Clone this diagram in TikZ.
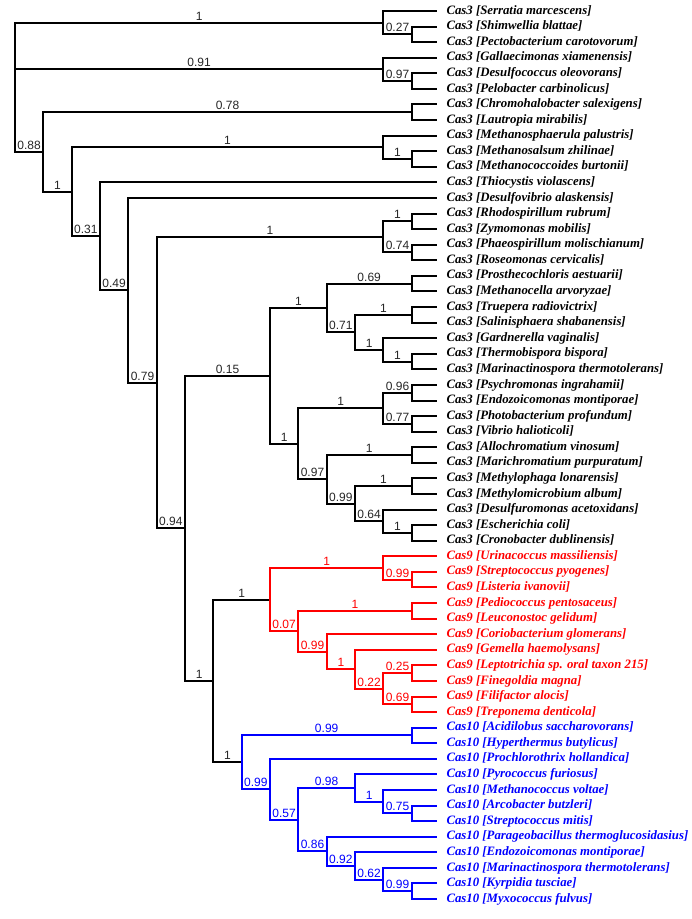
\documentclass[tikz,border=0pt]{standalone}
\usepackage{fontspec}
\newfontfamily\treeserif{Liberation Serif}
\newfontfamily\treesans{Liberation Sans}
\newcommand{\br}[3]{\draw (#1) |- (#2) node[val] {#3};}

\begin{document}
\begin{tikzpicture}[x=1pt, y=-1pt, line width=2pt,
  leaf/.style={anchor=west, inner xsep=9.5pt, inner ysep=0pt, outer sep=0pt,
    text height=8.8pt, text depth=2.6pt,
    font={\treeserif\bfseries\itshape\fontsize{12.8pt}{14pt}\selectfont}},
  val/.style={pos=0.75, above, inner sep=1.4pt, text=black!85,
    font={\treesans\fontsize{12pt}{14pt}\selectfont}}]
  \useasboundingbox (0,0) rectangle (692,919);
  \def\dy{15.58};
  % leaves
  \foreach \t [count=\i] in {Serratia marcescens, Shimwellia blattae, Pectobacterium carotovorum,
      Gallaecimonas xiamenensis, Desulfococcus oleovorans, Pelobacter carbinolicus,
      Chromohalobacter salexigens, Lautropia mirabilis, Methanosphaerula palustris,
      Methanosalsum zhilinae, Methanococcoides burtonii, Thiocystis violascens,
      Desulfovibrio alaskensis, Rhodospirillum rubrum, Zymomonas mobilis,
      Phaeospirillum molischianum, Roseomonas cervicalis, Prosthecochloris aestuarii,
      Methanocella arvoryzae, Truepera radiovictrix, Salinisphaera shabanensis,
      Gardnerella vaginalis, Thermobispora bispora, Marinactinospora thermotolerans,
      Psychromonas ingrahamii, Endozoicomonas montiporae, Photobacterium profundum,
      Vibrio halioticoli, Allochromatium vinosum, Marichromatium purpuratum,
      Methylophaga lonarensis, Methylomicrobium album, Desulfuromonas acetoxidans,
      Escherichia coli, Cronobacter dublinensis}
    \node[leaf] (l\i) at (437,{11+\dy*(\i-1)}) {Cas3 [\t]};
  \foreach \t [count=\i from 36] in {Urinacoccus massiliensis, Streptococcus pyogenes,
      Listeria ivanovii, Pediococcus pentosaceus, Leuconostoc gelidum,
      Coriobacterium glomerans, Gemella haemolysans, Leptotrichia sp. oral taxon 215,
      Finegoldia magna, Filifactor alocis, Treponema denticola}
    \node[leaf, text=red] (l\i) at (437,{11+\dy*(\i-1)}) {Cas9 [\t]};
  \foreach \t [count=\i from 47] in {Acidilobus saccharovorans, Hyperthermus butylicus,
      Prochlorothrix hollandica, Pyrococcus furiosus, Methanococcus voltae,
      Arcobacter butzleri, Streptococcus mitis, Parageobacillus thermoglucosidasius,
      Endozoicomonas montiporae, Marinactinospora thermotolerans, Kyrpidia tusciae,
      Myxococcus fulvus}
    \node[leaf, text=blue] (l\i) at (437,{11+\dy*(\i-1)}) {Cas10 [\t]};
  % inner nodes
  \coordinate (root) at (15,69.43);
  \coordinate (nS) at (383.33,22.69);
  \coordinate (n27) at (411.67,34.37);
  \coordinate (n91) at (383.33,69.43);
  \coordinate (n97a) at (411.67,81.11);
  \coordinate (n88) at (43.33,152.06);
  \coordinate (n78) at (411.67,112.27);
  \coordinate (n1) at (71.67,191.84);
  \coordinate (nMs) at (383.33,147.33);
  \coordinate (nMz) at (411.67,159.01);
  \coordinate (n31) at (100,236.36);
  \coordinate (n49) at (128.33,290.33);
  \coordinate (n79) at (156.67,382.69);
  \coordinate (nRh) at (383.33,236.91);
  \coordinate (nRZ) at (411.67,221.33);
  \coordinate (n74) at (411.67,252.49);
  \coordinate (n94) at (185,528.46);
  \coordinate (n15) at (270,375.92);
  \coordinate (nA) at (326.67,308.0);
  \coordinate (n69) at (411.67,283.65);
  \coordinate (n71) at (355,332.34);
  \coordinate (nT) at (411.67,314.81);
  \coordinate (nGa) at (383.33,349.87);
  \coordinate (nTM) at (411.67,361.55);
  \coordinate (nB) at (298.33,443.83);
  \coordinate (nPV) at (383.33,408.29);
  \coordinate (n96) at (411.67,392.71);
  \coordinate (n77) at (411.67,423.87);
  \coordinate (n97) at (326.67,479.38);
  \coordinate (nAM) at (411.67,455.03);
  \coordinate (n99) at (355,503.72);
  \coordinate (nMM) at (411.67,486.19);
  \coordinate (n64) at (383.33,521.25);
  \coordinate (nEC) at (411.67,532.93);
  \coordinate (n910) at (213.33,681.0);
  % Cas9
  \coordinate (c9) at (270,599.64);
  \coordinate (nU) at (383.33,567.99);
  \coordinate (nSL) at (411.67,579.67);
  \coordinate (n07) at (298.33,631.28);
  \coordinate (nPL) at (411.67,610.83);
  \coordinate (n99r) at (326.67,651.73);
  \coordinate (nGe) at (355,669.26);
  \coordinate (n22) at (383.33,688.73);
  \coordinate (n25) at (411.67,673.15);
  \coordinate (n69r) at (411.67,704.31);
  % Cas10
  \coordinate (c10) at (241.67,762.37);
  \coordinate (nAH) at (411.67,735.47);
  \coordinate (n99b) at (270,789.27);
  \coordinate (n57) at (298.33,819.7);
  \coordinate (n98) at (355,788.05);
  \coordinate (nMe) at (383.33,801.69);
  \coordinate (n75) at (411.67,813.37);
  \coordinate (n86) at (326.67,851.35);
  \coordinate (n92) at (355,865.95);
  \coordinate (n62) at (383.33,879.59);
  \coordinate (n99k) at (411.67,891.27);
  % Cas3 branches
  \br{root}{nS}{1} \br{root}{n91}{0.91} \br{root}{n88}{0.88}
  \br{nS}{n27}{0.27} \br{n91}{n97a}{0.97}
  \br{n88}{n78}{0.78} \br{n88}{n1}{1}
  \br{n1}{nMs}{1} \br{nMs}{nMz}{1} \br{n1}{n31}{0.31}
  \br{n31}{n49}{0.49} \br{n49}{n79}{0.79}
  \br{n79}{nRh}{1} \br{nRh}{nRZ}{1} \br{nRh}{n74}{0.74}
  \br{n79}{n94}{0.94} \br{n94}{n15}{0.15}
  \br{n15}{nA}{1} \br{nA}{n69}{0.69} \br{nA}{n71}{0.71}
  \br{n71}{nT}{1} \br{n71}{nGa}{1} \br{nGa}{nTM}{1}
  \br{n15}{nB}{1} \br{nB}{nPV}{1} \br{nPV}{n96}{0.96} \br{nPV}{n77}{0.77}
  \br{nB}{n97}{0.97} \br{n97}{nAM}{1} \br{n97}{n99}{0.99}
  \br{n99}{nMM}{1} \br{n99}{n64}{0.64} \br{n64}{nEC}{1}
  \br{n94}{n910}{1} \br{n910}{c9}{1} \br{n910}{c10}{1}
  \foreach \p/\i in {nS/1, n27/2, n27/3, n91/4, n97a/5, n97a/6, n78/7, n78/8,
      nMs/9, nMz/10, nMz/11, n31/12, n49/13, nRZ/14, nRZ/15, n74/16, n74/17,
      n69/18, n69/19, nT/20, nT/21, nGa/22, nTM/23, nTM/24, n96/25, n96/26,
      n77/27, n77/28, nAM/29, nAM/30, nMM/31, nMM/32, n64/33, nEC/34, nEC/35}
    \draw (\p) |- (l\i.west);
  % Cas9 branches
  \begin{scope}[red, val/.append style={text=red}]
    \br{c9}{nU}{1} \br{nU}{nSL}{0.99}
    \br{c9}{n07}{0.07} \br{n07}{nPL}{1} \br{n07}{n99r}{0.99}
    \br{n99r}{nGe}{1} \br{nGe}{n22}{0.22} \br{n22}{n25}{0.25} \br{n22}{n69r}{0.69}
    \foreach \p/\i in {nU/36, nSL/37, nSL/38, nPL/39, nPL/40, n99r/41, nGe/42,
        n25/43, n25/44, n69r/45, n69r/46}
      \draw (\p) |- (l\i.west);
  \end{scope}
  % Cas10 branches
  \begin{scope}[blue, val/.append style={text=blue}]
    \br{c10}{nAH}{0.99} \br{c10}{n99b}{0.99} \br{n99b}{n57}{0.57}
    \br{n57}{n98}{0.98} \br{n98}{nMe}{1} \br{nMe}{n75}{0.75}
    \br{n57}{n86}{0.86} \br{n86}{n92}{0.92} \br{n92}{n62}{0.62} \br{n62}{n99k}{0.99}
    \foreach \p/\i in {nAH/47, nAH/48, n99b/49, n98/50, nMe/51, n75/52, n75/53,
        n86/54, n92/55, n62/56, n99k/57, n99k/58}
      \draw (\p) |- (l\i.west);
  \end{scope}
\end{tikzpicture}
\end{document}
